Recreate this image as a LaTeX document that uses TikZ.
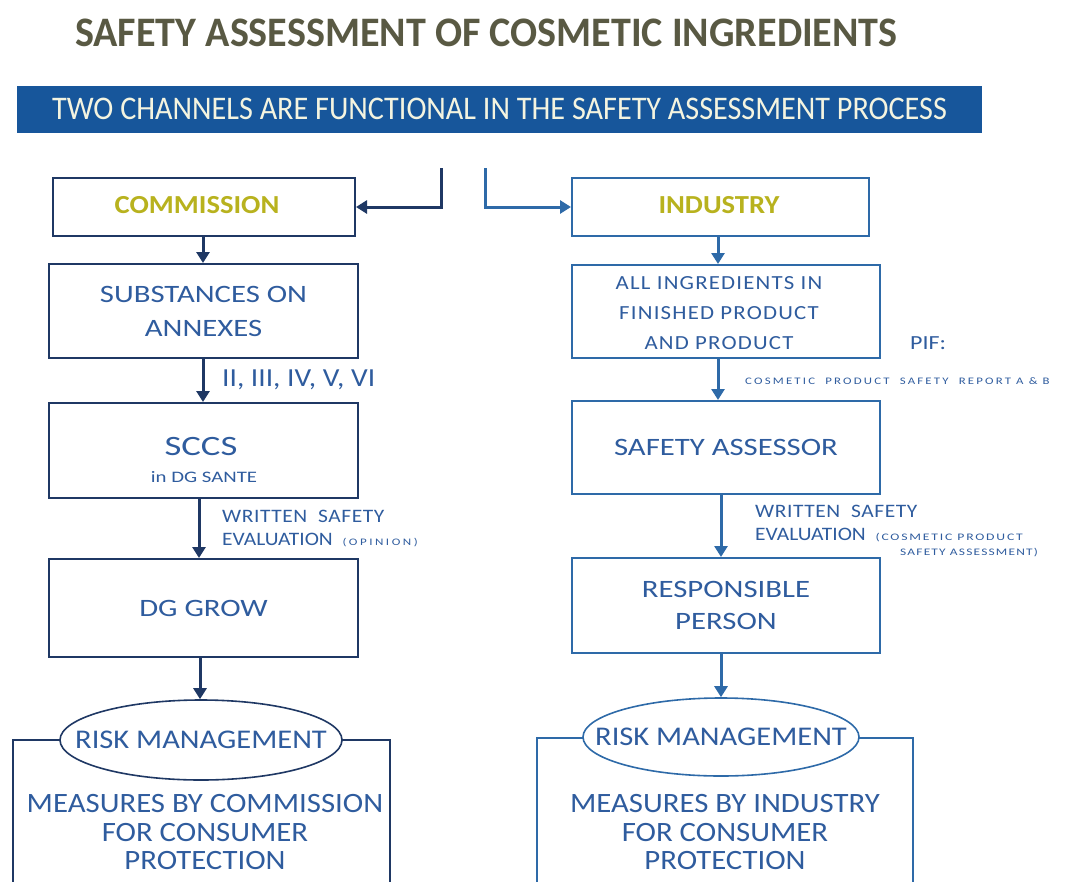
\documentclass[tikz,border=0pt]{standalone}
\usepackage{fontspec}
\setmainfont{Carlito}
\usetikzlibrary{arrows.meta,shapes.geometric}
\definecolor{navy}{HTML}{1F3864}
\definecolor{midblue}{HTML}{2E6AA8}
\definecolor{txtblue}{HTML}{2F5C9E}
\definecolor{banner}{HTML}{17569B}
\definecolor{titlecol}{HTML}{595943}
\definecolor{olive}{HTML}{B8B21E}
\definecolor{bannertxt}{HTML}{F4F4E0}
\newcommand\myfs[3]{\fontsize{#1}{#2}\selectfont\addfontfeature{FakeStretch=#3}}
\begin{document}
\begin{tikzpicture}[x=1pt,y=-1pt,
  lbox/.style={draw=navy,line width=2pt,fill=white,inner sep=0pt},
  rbox/.style={draw=midblue,line width=2pt,fill=white,inner sep=0pt},
  btext/.style={text=txtblue,font=\myfs{25}{30}{1.23},align=center},
  lab/.style={text=txtblue,font=\myfs{19}{22}{1.13},anchor=west,align=left,inner sep=0pt},
  larr/.style={draw=navy,line width=3pt,-{Triangle[length=11pt,width=13pt]}},
  rarr/.style={draw=midblue,line width=3pt,-{Triangle[length=11pt,width=13pt]}},
  ell/.style={ellipse,line width=1.6pt,fill=white,inner sep=0pt}
]
\useasboundingbox (0,0) rectangle (1071,881);
% title
\node[font=\bfseries\myfs{42}{46}{0.955},text=titlecol,anchor=west,inner sep=0pt] (title) at (75,33) {SAFETY ASSESSMENT OF COSMETIC INGREDIENTS};
% banner
\node[fill=banner,minimum width=965pt,minimum height=47pt,anchor=north west,inner sep=0pt] (ban) at (17,86) {};
\node[text=bannertxt,font=\myfs{33}{36}{0.915},anchor=west,inner sep=0pt] (bantxt) at (52,109) {TWO CHANNELS ARE FUNCTIONAL IN THE SAFETY ASSESSMENT PROCESS};
% split arrows
\coordinate (ls) at (441,168);
\coordinate (rs) at (485,168);
% boxes left
\node[lbox,minimum width=302pt,minimum height=58pt,anchor=north west] (com) at (52,177) {};
\node[text=olive,font=\bfseries\myfs{26}{30}{1.1}] at (197,205) {COMMISSION};
\node[lbox,minimum width=309pt,minimum height=94pt,anchor=north west,btext] (sub) at (48,263) {SUBSTANCES ON\\[4pt]ANNEXES};
\node[lbox,minimum width=309pt,minimum height=95pt,anchor=north west] (sccs) at (48,402) {};
\node[text=txtblue,font=\myfs{28}{30}{1.31}] at (201,447) {SCCS};
\node[text=txtblue,font=\myfs{16}{18}{1.3}] at (204,477) {in DG SANTE};
\node[lbox,minimum width=309pt,minimum height=98pt,anchor=north west,btext] (grow) at (48,558) {DG GROW};
% boxes right
\node[rbox,minimum width=297pt,minimum height=58pt,anchor=north west] (ind) at (571,177) {};
\node[text=olive,font=\bfseries\myfs{26}{30}{1.1}] at (719,205) {INDUSTRY};
\node[rbox,minimum width=308pt,minimum height=93pt,anchor=north west] (all) at (571,264) {};
\node[text=txtblue,align=center,font=\myfs{20}{30}{1.14}\addfontfeature{LetterSpace=6}] at (719,313) {ALL INGREDIENTS IN\\FINISHED PRODUCT\\AND PRODUCT};
\node[rbox,minimum width=308pt,minimum height=93pt,anchor=north west,btext] (ass) at (571,400) {SAFETY ASSESSOR};
\node[rbox,minimum width=308pt,minimum height=95pt,anchor=north west,btext,font=\myfs{25}{32}{1.23}] (resp) at (571,557) {RESPONSIBLE\\PERSON};
% top arrows
\draw[larr] (ls) |- (com.east);
\draw[rarr] (rs) |- (ind.west);
% vertical arrows
\draw[larr] (com.south -| 203,0) -- (sub.north -| 203,0);
\draw[larr] (sub.south -| 203,0) -- (sccs.north -| 203,0);
\draw[larr] (sccs.south -| 199,0) -- (grow.north -| 199,0);
\draw[rarr] (ind.south -| 718,0) -- (all.north -| 718,0);
\draw[rarr] (all.south -| 718,0) -- (ass.north -| 718,0);
\draw[rarr] (ass.south -| 721,0) -- (resp.north -| 721,0);
% labels
\node[lab,font=\myfs{26}{28}{1.13}] (l1) at (222,380) {II, III, IV, V, VI};
\node[lab] (l2) at (222,516) {\addfontfeature{LetterSpace=3}WRITTEN\ \ SAFETY};
\node[lab] (l3) at (222,540) {EVALUATION \ {\myfs{10}{12}{1.3}\addfontfeature{LetterSpace=25}(OPINION)}};
\node[lab,font=\myfs{20}{22}{1.2}] (pif) at (910,343) {PIF:};
\node[lab,font=\myfs{10}{12}{1.28}\addfontfeature{LetterSpace=22}] (cps) at (745,381) {COSMETIC\ \ PRODUCT\ \ SAFETY\ \ REPORT\ A \& B};
\node[lab] (r2) at (755,511) {\addfontfeature{LetterSpace=3}WRITTEN\ \ SAFETY};
\node[lab] (r3) at (755,535) {EVALUATION \ {\myfs{10}{12}{1.37}\addfontfeature{LetterSpace=18}(COSMETIC\ PRODUCT}};
\node[lab,font=\myfs{10}{12}{1.34}\addfontfeature{LetterSpace=12}] (r4) at (900,553) {SAFETY ASSESSMENT)};
% bottom outer boxes
\draw[navy,line width=1.8pt] (13,885) -- (13,740) -- (390,740) -- (390,885);
\draw[midblue,line width=1.8pt] (537,885) -- (537,738) -- (913,738) -- (913,885);
\node[ell,draw=navy,minimum width=282pt,minimum height=80pt] (rm1) at (201,740) {};
\node[ell,draw=midblue,minimum width=276pt,minimum height=78pt] (rm2) at (721,737) {};
\node[text=txtblue,font=\myfs{27}{30}{1.13}] at (rm1) {RISK MANAGEMENT};
\node[text=txtblue,font=\myfs{27}{30}{1.13}] at (rm2) {RISK MANAGEMENT};
\draw[larr] (grow.south -| 200,0) -- (rm1.north -| 200,0);
\draw[rarr] (resp.south -| 721,0) -- (rm2.north);
\node[text=txtblue,font=\myfs{28}{28.5}{1.1},align=center] (m1) at (205,832) {MEASURES BY COMMISSION\\FOR CONSUMER\\PROTECTION};
\node[text=txtblue,font=\myfs{28}{28.5}{1.1},align=center] (m2) at (725,832) {MEASURES BY INDUSTRY\\FOR CONSUMER\\PROTECTION};
\end{tikzpicture}
\end{document}
